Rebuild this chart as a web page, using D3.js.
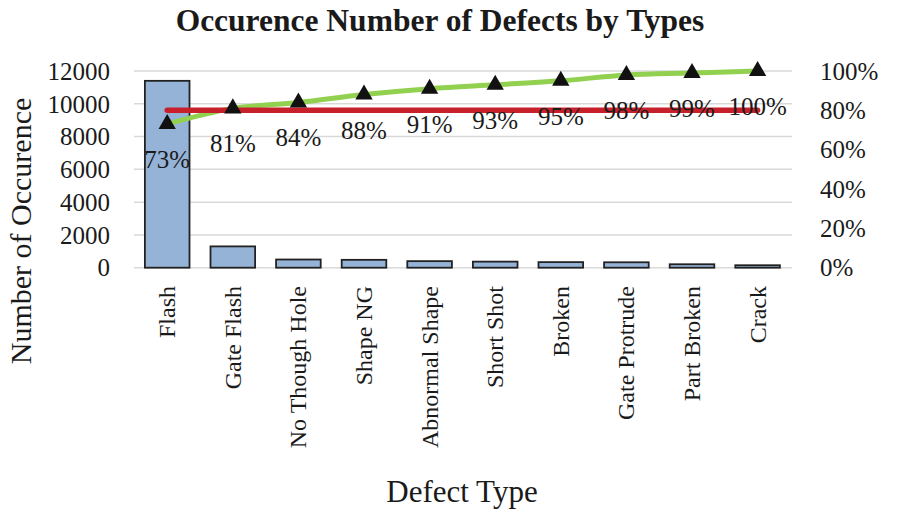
<!DOCTYPE html>
<html>
<head>
<meta charset="utf-8">
<script src="https://cdn.jsdelivr.net/npm/d3@7"></script>
<style>
html,body{margin:0;padding:0;background:#fff;}
svg{display:block;}
text{font-family:"Liberation Serif","Times New Roman",serif;fill:#1a1a1a;}
</style>
</head>
<body>
<svg id="chart" width="902" height="512"></svg>
<script>
const categories = ["Flash","Gate Flash","No Though Hole","Shape NG","Abnormal Shape","Short Shot","Broken","Gate Protrude","Part Broken","Crack"];
const counts = [11400,1300,500,480,400,370,340,330,210,150];
const cumulativePct = [73,81,84,88,91,93,95,98,99,100];
const thresholdPct = 80;
const leftTicks = [0,2000,4000,6000,8000,10000,12000];
const rightTicks = [0,20,40,60,80,100];

const svg = d3.select("#chart");
const x = d3.scaleBand().domain(categories).range([134.4,790.4]).paddingInner(0.32).paddingOuter(0.16);
const y = d3.scaleLinear().domain([0,12000]).range([267.7,71]);
const yp = d3.scaleLinear().domain([0,100]).range([267.7,71]);

// gridlines
svg.append("g").selectAll("line").data(leftTicks).join("line")
  .attr("x1",134).attr("x2",792)
  .attr("y1",d=>y(d)).attr("y2",d=>y(d))
  .attr("stroke","#d9d9d9").attr("stroke-width",1.5);

// left axis
const gl = svg.append("g").attr("transform","translate(122,0)")
  .call(d3.axisLeft(y).tickValues(leftTicks).tickSize(0).tickPadding(12).tickFormat(d3.format("d")));
gl.select(".domain").remove();
gl.selectAll("text").attr("font-size",25).attr("font-family","Liberation Serif").attr("fill","#1a1a1a").attr("dy","0.33em");

// right axis
const gr = svg.append("g").attr("transform","translate(808,0)")
  .call(d3.axisRight(yp).tickValues(rightTicks).tickSize(0).tickPadding(12).tickFormat(d=>d+"%"));
gr.select(".domain").remove();
gr.selectAll("text").attr("font-size",25).attr("font-family","Liberation Serif").attr("fill","#1a1a1a").attr("dy","0.33em");

// bars
svg.append("g").selectAll("rect").data(categories).join("rect")
  .attr("x",d=>x(d)).attr("width",x.bandwidth())
  .attr("y",(d,i)=>y(counts[i])).attr("height",(d,i)=>y(0)-y(counts[i]))
  .attr("fill","#95b3d7").attr("stroke","#222").attr("stroke-width",1.8);

// category labels
const gx = svg.append("g").attr("transform","translate(0,275)")
  .call(d3.axisBottom(x).tickSize(0).tickPadding(0));
gx.select(".domain").remove();
gx.selectAll("text")
  .attr("font-size",24).attr("font-family","Liberation Serif").attr("fill","#1a1a1a")
  .attr("text-anchor","end").attr("transform","rotate(-90)")
  .attr("x",-11).attr("y",0).attr("dy","0.33em");

// cumulative curve
const pts = categories.map((c,i)=>[x(c)+x.bandwidth()/2, yp(cumulativePct[i])]);
svg.append("path").datum(pts)
  .attr("d",d3.line().curve(d3.curveCatmullRom.alpha(0.5)))
  .attr("fill","none").attr("stroke","#92d050").attr("stroke-width",5);

// 80% threshold line
svg.append("line")
  .attr("x1",pts[0][0]).attr("x2",pts[pts.length-1][0])
  .attr("y1",yp(thresholdPct)).attr("y2",yp(thresholdPct))
  .attr("stroke","#c8202a").attr("stroke-width",5.5).attr("stroke-linecap","round");

// markers
svg.append("g").selectAll("path").data(pts).join("path")
  .attr("transform",d=>`translate(${d[0]},${d[1]})`)
  .attr("d",d3.symbol().type(d3.symbolTriangle).size(130))
  .attr("fill","#111");

// data labels
svg.append("g").selectAll("text").data(pts).join("text")
  .attr("x",d=>d[0]).attr("y",d=>d[1]+44)
  .attr("text-anchor","middle").attr("font-size",25)
  .text((d,i)=>cumulativePct[i]+"%");

// title
svg.append("text").attr("x",440).attr("y",31).attr("text-anchor","middle")
  .attr("font-size",31.5).attr("font-weight","bold").text("Occurence Number of Defects by Types");

// axis titles
svg.append("text").attr("x",462).attr("y",502).attr("text-anchor","middle")
  .attr("font-size",31).text("Defect Type");
svg.append("text").attr("transform","translate(31,231) rotate(-90)").attr("text-anchor","middle")
  .attr("font-size",30).text("Number of Occurence");
</script>
</body>
</html>
